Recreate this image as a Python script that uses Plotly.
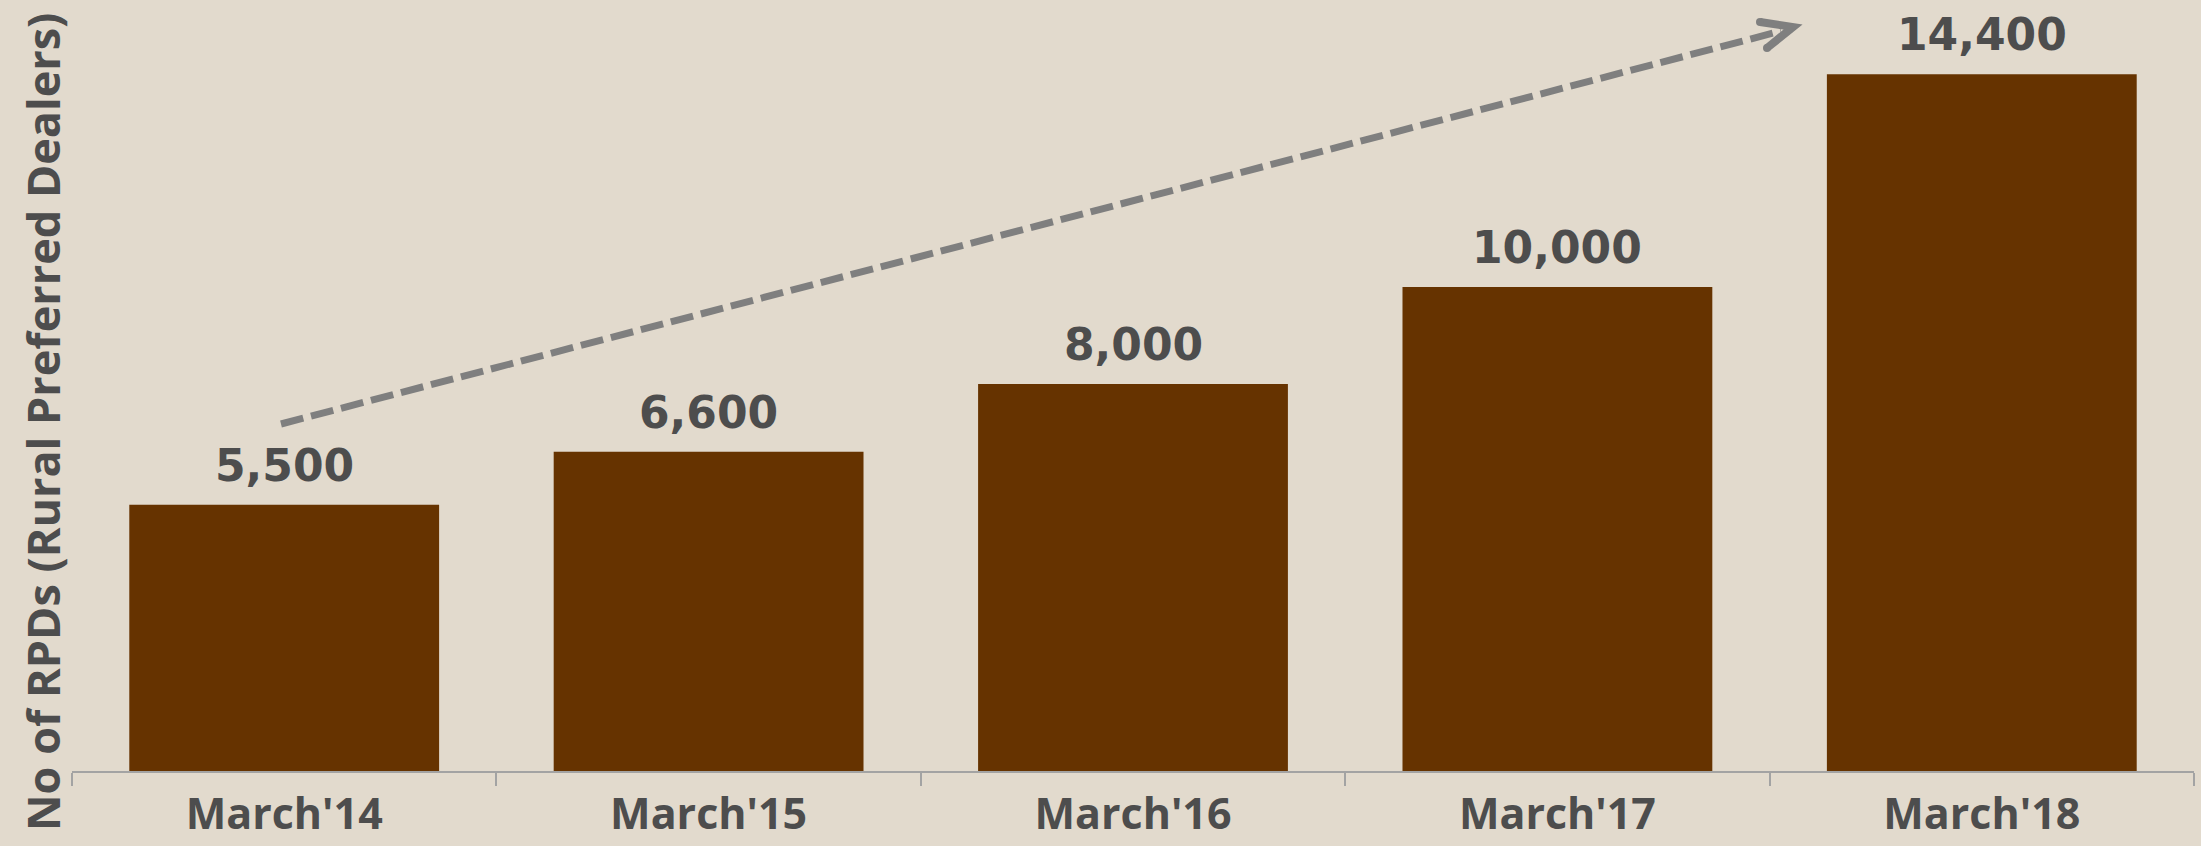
import plotly.graph_objects as go

# Rural Preferred Dealers network size by fiscal year end
periods = ["March'14", "March'15", "March'16", "March'17", "March'18"]
dealers = [5500, 6600, 8000, 10000, 14400]

BAR_COLOR = "#663300"
TEXT_COLOR = "#4d4d4d"
BG_COLOR = "#e2dacd"
AXIS_COLOR = "#a3a3a3"
ARROW_COLOR = "#7f7f7f"

W, H = 2201, 846
M_L, M_R, M_T, M_B = 72, 7, 0, 75
PLOT_W = W - M_L - M_R
PLOT_H = H - M_T - M_B


def px_x(x):
    return (x - M_L) / PLOT_W


def px_y(y):
    return (H - M_B - y) / PLOT_H


fig = go.Figure(
    go.Bar(
        x=periods,
        y=dealers,
        marker=dict(color=BAR_COLOR, line=dict(width=0)),
        hoverinfo="skip",
    )
)

# value labels above each bar
for p, v in zip(periods, dealers):
    fig.add_annotation(
        x=p, y=v, xref="x", yref="y",
        text=f"{v:,}", showarrow=False,
        yanchor="bottom", yshift=12,
        font=dict(family="DejaVu Sans", size=44, color=TEXT_COLOR, weight="bold"),
    )

# vertical axis title
fig.add_annotation(
    xref="paper", yref="paper", x=px_x(42), y=px_y(422),
    text="No of RPDs (Rural Preferred Dealers)", showarrow=False,
    textangle=-90, xanchor="center", yanchor="middle",
    font=dict(family="Open Sans", size=45, color=TEXT_COLOR, weight="bold"),
)

# dashed growth arrow
x0, y0 = 281, 424
x1, y1 = 1793, 27
fig.add_shape(
    type="line", xref="paper", yref="paper",
    x0=px_x(x0), y0=px_y(y0), x1=px_x(x1 - 12), y1=px_y(y1 + 4),
    line=dict(color=ARROW_COLOR, width=7, dash="23px,8px"),
)
fig.add_shape(
    type="path", xref="paper", yref="paper",
    path=(f"M {px_x(1760)},{px_y(22)} L {px_x(x1)},{px_y(y1)} "
          f"L {px_x(1767)},{px_y(48)}"),
    line=dict(color=ARROW_COLOR, width=8),
)
# rounded ends on the arrowhead arms
for cx, cy in [(1760, 22), (1767, 48)]:
    fig.add_shape(
        type="circle", xref="paper", yref="paper",
        x0=px_x(cx - 4), x1=px_x(cx + 4), y0=px_y(cy + 4), y1=px_y(cy - 4),
        fillcolor=ARROW_COLOR, line=dict(width=0),
    )

fig.update_layout(
    width=W, height=H,
    margin=dict(l=M_L, r=M_R, t=M_T, b=M_B, pad=0, autoexpand=False),
    paper_bgcolor=BG_COLOR, plot_bgcolor=BG_COLOR,
    bargap=0.27,
    showlegend=False,
    xaxis=dict(
        range=[-0.5, 4.5],
        automargin=False,
        showline=True, linecolor=AXIS_COLOR, linewidth=2,
        ticks="outside", tickson="boundaries", ticklen=13,
        tickcolor=AXIS_COLOR, tickwidth=2,
        ticklabelstandoff=4,
        showgrid=False, zeroline=False,
        tickfont=dict(family="Open Sans", size=43, color=TEXT_COLOR, weight="bold"),
    ),
    yaxis=dict(
        range=[0, 15933],
        automargin=False,
        visible=False, showgrid=False, zeroline=False,
    ),
)

fig.write_html("out.html")
